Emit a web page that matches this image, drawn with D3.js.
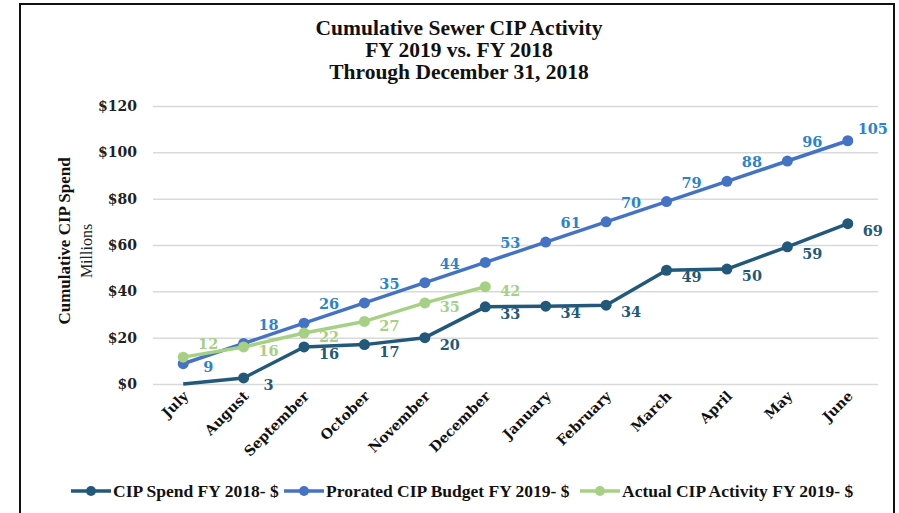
<!DOCTYPE html>
<html>
<head>
<meta charset="utf-8">
<script src="https://cdn.jsdelivr.net/npm/d3@7"></script>
<style>
  html, body { margin: 0; padding: 0; background: #fff; }
  svg { display: block; }
  .grid line { stroke: #d9d9d9; stroke-width: 1.5; }
  .grid path { display: none; }
</style>
</head>
<body>
<svg id="chart" width="899" height="513"></svg>
<script>
/* ── Data ─────────────────────────────────────────────── */
const months = ['July', 'August', 'September', 'October', 'November', 'December',
  'January', 'February', 'March', 'April', 'May', 'June'];

const spendFY18   = [0, 2.6, 16, 17, 20, 33.3, 33.6, 34, 49.1, 49.6, 59.2, 69.2];
const budgetFY19  = [8.75, 17.5, 26.25, 35, 43.75, 52.5, 61.25, 70, 78.75, 87.5, 96.25, 105];
const actualFY19  = [11.6, 16, 22, 27, 35, 42];

const yTicks = [0, 20, 40, 60, 80, 100, 120];

const titleLines = ['Cumulative Sewer CIP Activity', 'FY 2019 vs. FY 2018', 'Through December 31, 2018'];

const series = [
  { name: 'CIP Spend FY 2018- $',            values: spendFY18,  line: '#22597a', label: '#22597a' },
  { name: 'Prorated CIP Budget FY 2019- $',  values: budgetFY19, line: '#4472c4', label: '#2a83cf' },
  { name: 'Actual CIP Activity FY 2019- $',  values: actualFY19, line: '#a6d083', label: '#a6d083' }
];

/* ── Layout ───────────────────────────────────────────── */
const svg = d3.select('#chart');
const serif = "'DejaVu Serif', serif";
const titleFont = "'Liberation Serif', serif";

svg.append('rect')
  .attr('x', 20).attr('y', 4)
  .attr('width', 874).attr('height', 530)
  .attr('fill', 'none').attr('stroke', '#111').attr('stroke-width', 2);

const x = d3.scalePoint().domain(months).range([153, 878]).padding(0.5);
const y = d3.scaleLinear().domain([0, 120]).range([384, 106]);

/* ── Title ────────────────────────────────────────────── */
svg.append('g').selectAll('text')
  .data(titleLines)
  .join('text')
  .attr('x', 459).attr('y', (d, i) => 35 + i * 22)
  .attr('text-anchor', 'middle')
  .attr('font-family', titleFont).attr('font-weight', 'bold').attr('font-size', 21.5)
  .attr('fill', '#111')
  .text(d => d);

/* ── Grid + y axis ────────────────────────────────────── */
svg.append('g')
  .attr('class', 'grid')
  .attr('transform', 'translate(153,0)')
  .call(d3.axisLeft(y).tickValues(yTicks).tickSize(-725).tickFormat(''));

svg.append('g').selectAll('text')
  .data(yTicks)
  .join('text')
  .attr('x', 137).attr('y', d => y(d)).attr('dy', '0.35em')
  .attr('text-anchor', 'end')
  .attr('font-family', serif).attr('font-weight', 'bold').attr('font-size', 14)
  .attr('fill', '#222')
  .text(d => '$' + d);

svg.append('text')
  .attr('transform', 'translate(70,241) rotate(-90)')
  .attr('text-anchor', 'middle')
  .attr('font-family', titleFont).attr('font-weight', 'bold').attr('font-size', 17)
  .attr('fill', '#111')
  .text('Cumulative CIP Spend');

svg.append('text')
  .attr('transform', 'translate(92,251) rotate(-90)')
  .attr('text-anchor', 'middle')
  .attr('font-family', titleFont).attr('font-size', 16)
  .attr('fill', '#222')
  .text('Millions');

/* ── X labels (rotated) ───────────────────────────────── */
svg.append('g').selectAll('text')
  .data(months)
  .join('text')
  .attr('transform', d => `translate(${x(d) + 6},${397}) rotate(-45)`)
  .attr('text-anchor', 'end')
  .attr('font-family', serif).attr('font-weight', 'bold').attr('font-size', 14)
  .attr('fill', '#111')
  .text(d => d);

/* ── Lines, markers, labels ───────────────────────────── */
const line = d3.line()
  .x((d, i) => x(months[i]))
  .y(d => y(d));

series.forEach((s, si) => {
  const g = svg.append('g');
  g.append('path')
    .datum(s.values)
    .attr('d', line)
    .attr('fill', 'none')
    .attr('stroke', s.line)
    .attr('stroke-width', 3.5)
    .attr('stroke-linejoin', 'round');

  const pts = s.values.map((v, i) => ({ v, i })).filter(d => d.v > 0);

  g.selectAll('circle')
    .data(pts)
    .join('circle')
    .attr('cx', d => x(months[d.i]))
    .attr('cy', d => y(d.v))
    .attr('r', 5.5)
    .attr('fill', s.line);

  // budget labels sit above-right, others below-right
  g.selectAll('text')
    .data(pts)
    .join('text')
    .attr('x', d => x(months[d.i]) + 25)
    .attr('y', d => {
      if (si === 1) return y(d.v) + (d.i === 0 ? 3 : d.i === 11 ? -12 : -19);
      if (si === 2) return y(d.v) + (d.i === 0 ? -13 : 4);
      return y(d.v) + 7;
    })
    .attr('dy', '0.35em')
    .attr('text-anchor', 'middle')
    .attr('font-family', serif).attr('font-weight', 'bold').attr('font-size', 14.5)
    .attr('fill', s.label)
    .text(d => Math.round(d.v));
});

/* ── Legend ───────────────────────────────────────────── */
const legendX = [71, 284, 580];
const legend = svg.append('g').selectAll('g')
  .data(series)
  .join('g')
  .attr('transform', (d, i) => `translate(${legendX[i]},491)`);

legend.append('line')
  .attr('x1', 0).attr('x2', 40)
  .attr('stroke', d => d.line).attr('stroke-width', 3.5);
legend.append('circle')
  .attr('cx', 20).attr('r', 5)
  .attr('fill', d => d.line);
legend.append('text')
  .attr('x', 42).attr('dy', '0.35em')
  .attr('font-family', titleFont).attr('font-weight', 'bold').attr('font-size', 17.5)
  .attr('fill', '#111')
  .text(d => d.name);
</script>
</body>
</html>
